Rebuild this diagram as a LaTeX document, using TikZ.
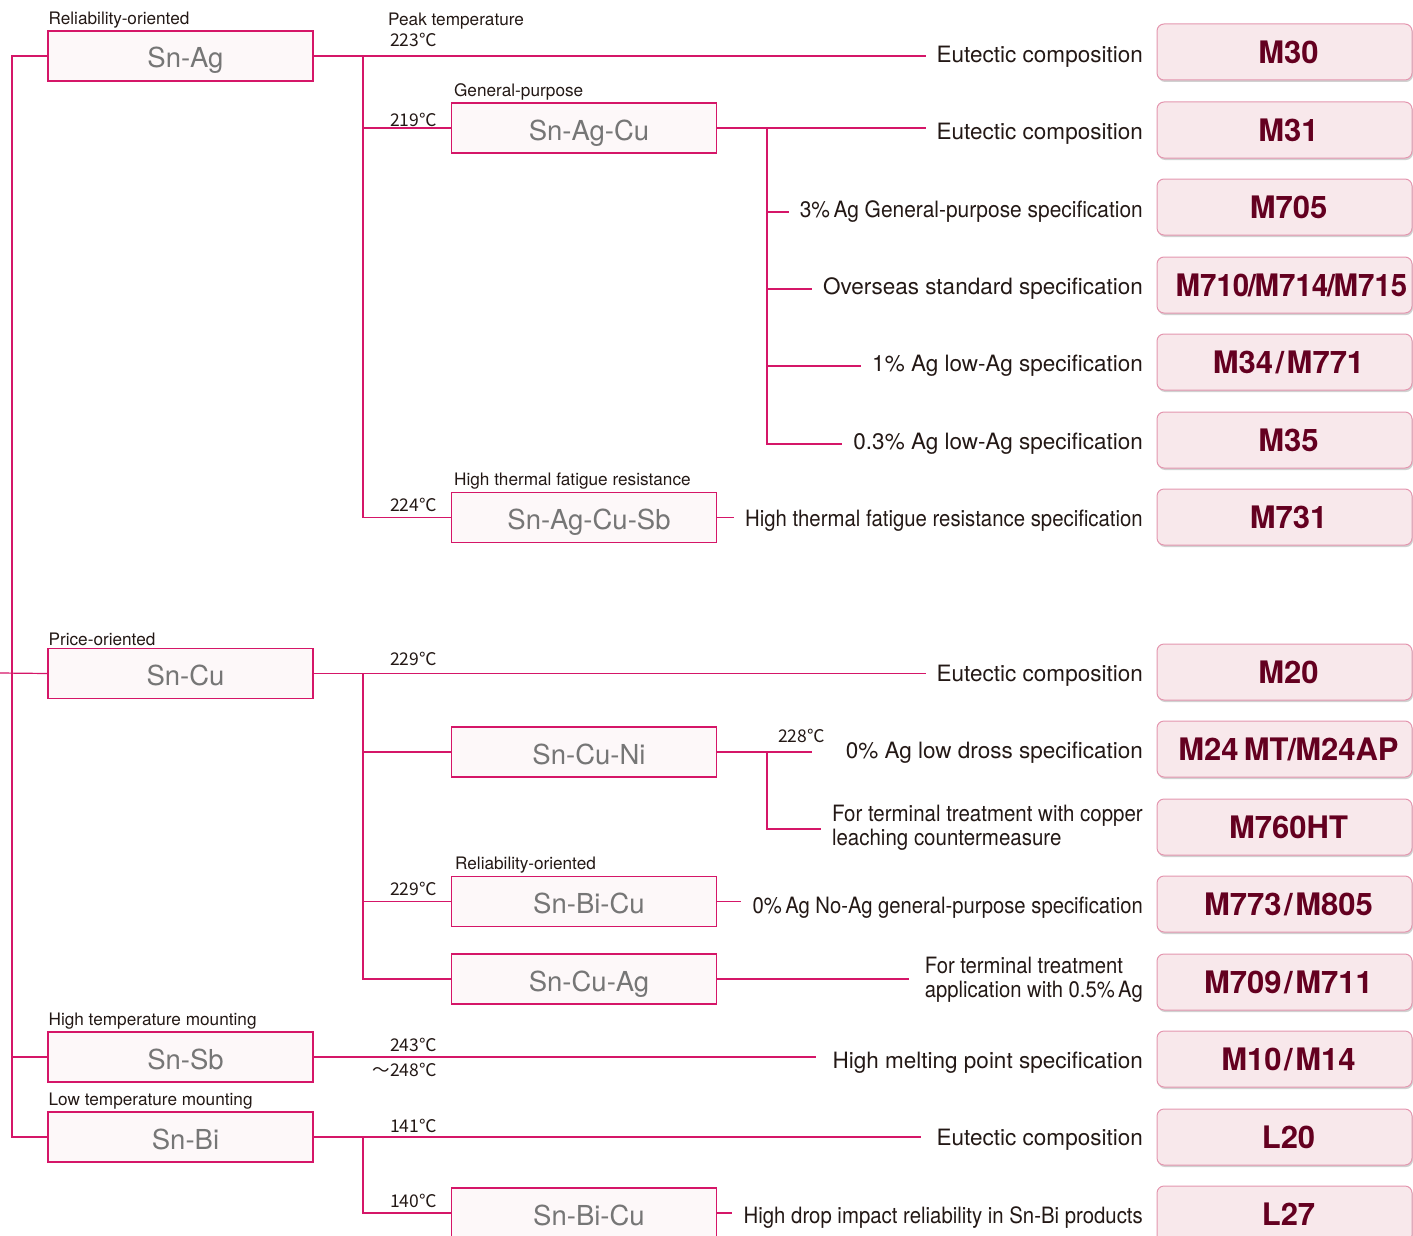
\documentclass[tikz,border=0pt]{standalone}
\usepackage{fontspec}
\usepackage{graphicx}
\setmainfont{TeX Gyre Heros}
\newfontfamily\jpfont{Noto Sans CJK JP}
\usetikzlibrary{shadows}

\definecolor{linec}{RGB}{213,22,104}
\definecolor{alloyfill}{RGB}{253,248,249}
\definecolor{alloytext}{RGB}{118,118,118}
\definecolor{prodfill}{RGB}{248,232,235}
\definecolor{prodline}{RGB}{228,150,175}
\definecolor{prodtext}{RGB}{100,0,32}
\definecolor{desctext}{RGB}{35,24,21}

\newcommand{\narrow}[2]{\scalebox{#1}[1]{#2}}
\newcommand{\tsl}{\kern-1.5pt/\kern-1.5pt}
\newcommand{\wsl}{\kern2.5pt/\kern2.5pt}

\tikzset{
  link/.style={draw=linec,line width=1.2pt},
  alloy/.style={draw=linec,line width=1.2pt,fill=alloyfill,text=alloytext,
    minimum width=265pt,minimum height=50pt,inner sep=0pt,
    text height=24pt,text depth=0pt,
    execute at begin node=\hspace*{10pt},
    font=\fontsize{27.5}{30}\selectfont},
  grade/.style={rounded corners=7pt,draw=prodline,line width=1pt,fill=prodfill,
    text=prodtext,minimum width=255pt,minimum height=56pt,inner sep=0pt,
    font=\bfseries\fontsize{31}{34}\selectfont,
    execute at begin node=\hspace*{8pt},
    drop shadow={shadow xshift=1pt,shadow yshift=-2pt,opacity=0.18,fill=black}},
  spec/.style={anchor=east,inner xsep=11pt,inner ysep=2pt,text=desctext,align=left,
    font=\fontsize{22.5}{24}\selectfont},
  temp/.style={anchor=east,inner sep=0pt,text=desctext,font=\jpfont\fontsize{17.5}{19}\selectfont},
  tag/.style={anchor=south west,inner sep=1pt,text=desctext,font=\fontsize{17.2}{19}\selectfont},
}

\begin{document}
\begin{tikzpicture}[line cap=butt,line join=miter,x=1pt,y=-1pt]
\useasboundingbox (0,0) rectangle (1413,1236);
\clip (0,0) rectangle (1413,1236);
\coordinate (trunk) at (12,0);
\coordinate (col1) at (363,0);
\coordinate (col2) at (767,0);
\coordinate (cuin) at (0,673);

% alloy boxes
\node[alloy] (snag) at (180.5,56) {Sn-Ag};
\node[alloy] (sagcu) at (584,128) {Sn-Ag-Cu};
\node[alloy] (sagcusb) at (584,517.5) {Sn-Ag-Cu-Sb};
\node[alloy] (sncu) at (180.5,673.5) {Sn-Cu};
\node[alloy] (scuni) at (584,752) {Sn-Cu-Ni};
\node[alloy] (sbicu) at (584,901.5) {Sn-Bi-Cu};
\node[alloy] (scuag) at (584,979) {Sn-Cu-Ag};
\node[alloy] (snsb) at (180.5,1057) {Sn-Sb};
\node[alloy] (snbi) at (180.5,1137) {Sn-Bi};
\node[alloy] (sbicu2) at (584,1213) {Sn-Bi-Cu};

% tags above boxes
\node[tag] at ([yshift=1pt]snag.north west) {Reliability-oriented};
\node[tag] at ([xshift=2pt,yshift=1pt]sagcu.north west) {General-purpose};
\node[tag] at ([xshift=2pt,yshift=1pt]sagcusb.north west) {High thermal fatigue resistance};
\node[tag] at ([yshift=1pt]sncu.north west) {Price-oriented};
\node[tag] at ([xshift=3pt,yshift=1pt]sbicu.north west) {Reliability-oriented};
\node[tag] at ([yshift=1pt]snsb.north west) {High temperature mounting};
\node[tag] at ([yshift=1pt]snbi.north west) {Low temperature mounting};

% temperatures
\node[tag,anchor=west] at (387,21) {Peak temperature};
\node[temp] at (437,40) {223℃};
\node[temp] at (437,120) {219℃};
\node[temp] at (437,505) {224℃};
\node[temp] at (437,659) {229℃};
\node[temp] at (825,736) {228℃};
\node[temp] at (437,889) {229℃};
\node[temp] at (437,1045) {243℃};
\node[temp] at (437,1070) {～248℃};
\node[temp] at (437,1126) {141℃};
\node[temp] at (437,1201) {140℃};

% specifications
\node[spec] (d1) at (1154,57) {Eutectic composition};
\node[spec] (d2) at (1154,134) {Eutectic composition};
\node[spec] (d3) at (1154,212) {\narrow{0.93}{3\%\,Ag General-purpose specification}};
\node[spec] (d4) at (1154,289) {Overseas standard specification};
\node[spec] (d5) at (1154,366) {1\% Ag low-Ag specification};
\node[spec] (d6) at (1154,444) {0.3\% Ag low-Ag specification};
\node[spec] (d7) at (1154,521) {\narrow{0.905}{High thermal fatigue resistance specification}};
\node[spec] (d8) at (1154,676) {Eutectic composition};
\node[spec] (d9) at (1154,753) {0\% Ag low dross specification};
\node[spec] (d10) at (1154,829) {\narrow{0.91}{\begin{tabular}{@{}l@{}}For terminal treatment with copper\\leaching countermeasure\end{tabular}}};
\node[spec] (d11) at (1154,908) {\narrow{0.9}{0\%\,Ag No-Ag general-purpose specification}};
\node[spec] (d12) at (1154,981) {\narrow{0.9}{\begin{tabular}{@{}l@{}}For terminal treatment\\application with 0.5\%\,Ag\end{tabular}}};
\node[spec] (d13) at (1154,1063) {High melting point specification};
\node[spec] (d14) at (1154,1140) {Eutectic composition};
\node[spec] (d15) at (1154,1218) {\narrow{0.905}{High drop impact reliability in Sn-Bi products}};

% grades
\node[grade] (g1) at (1284.5,52) {M30};
\node[grade] (g2) at (1284.5,130) {M31};
\node[grade] (g3) at (1284.5,207) {M705};
\node[grade,execute at begin node=] (g4) at (1284.5,285) {\hspace*{6pt}\narrow{0.95}{M710\tsl M714\tsl M715}};
\node[grade] (g5) at (1284.5,362) {M34\wsl M771};
\node[grade] (g6) at (1284.5,440) {M35};
\node[grade] (g7) at (1284.5,517) {M731};
\node[grade] (g8) at (1284.5,672) {M20};
\node[grade] (g9) at (1284.5,749) {M24\,MT\kern-1pt/\kern-1pt M24AP};
\node[grade] (g10) at (1284.5,827) {M760HT};
\node[grade] (g11) at (1284.5,904) {M773\wsl M805};
\node[grade] (g12) at (1284.5,982) {M709\wsl M711};
\node[grade] (g13) at (1284.5,1059) {M10\wsl M14};
\node[grade] (g14) at (1284.5,1137) {L20};
\node[grade] (g15) at (1284.5,1214) {L27};

% trunk
\draw[link] (snag.west) -| (snbi.west -| trunk) -- (snbi.west);
\draw[link] (snsb.west -| trunk) -- (snsb.west);
\draw[link] (cuin) -- (sncu.west);

% Sn-Ag
\draw[link] (snag.east) -- (snag.east -| d1.west);
\draw[link] (snag.east -| col1) |- (sagcu.west);
\draw[link] (snag.east -| col1) |- (sagcusb.west);
\draw[link] (sagcu.east) -- (sagcu.east -| d2.west);
\draw[link] (sagcu.east -| col2) |- (d3.west);
\draw[link] (sagcu.east -| col2) |- (d4.west);
\draw[link] (sagcu.east -| col2) |- (d5.west);
\draw[link] (sagcu.east -| col2) |- (d6.west);
\draw[link] (sagcusb.east) -- (sagcusb.east -| d7.west);

% Sn-Cu
\draw[link] (sncu.east) -- (sncu.east -| d8.west);
\draw[link] (sncu.east -| col1) |- (scuni.west);
\draw[link] (sncu.east -| col1) |- (sbicu.west);
\draw[link] (sncu.east -| col1) |- (scuag.west);
\draw[link,shorten >=23pt] (scuni.east) -- (scuni.east -| d9.west);
\draw[link] (scuni.east -| col2) |- (d10.west);
\draw[link] (sbicu.east) -- (sbicu.east -| d11.west);
\draw[link,shorten >=5pt] (scuag.east) -- (scuag.east -| d12.west);

% Sn-Sb, Sn-Bi
\draw[link,shorten >=5pt] (snsb.east) -- (snsb.east -| d13.west);
\draw[link,shorten >=5pt] (snbi.east) -- (snbi.east -| d14.west);
\draw[link] (snbi.east -| col1) |- (sbicu2.west);
\draw[link] (sbicu2.east) -- (sbicu2.east -| d15.west);
\end{tikzpicture}
\end{document}
